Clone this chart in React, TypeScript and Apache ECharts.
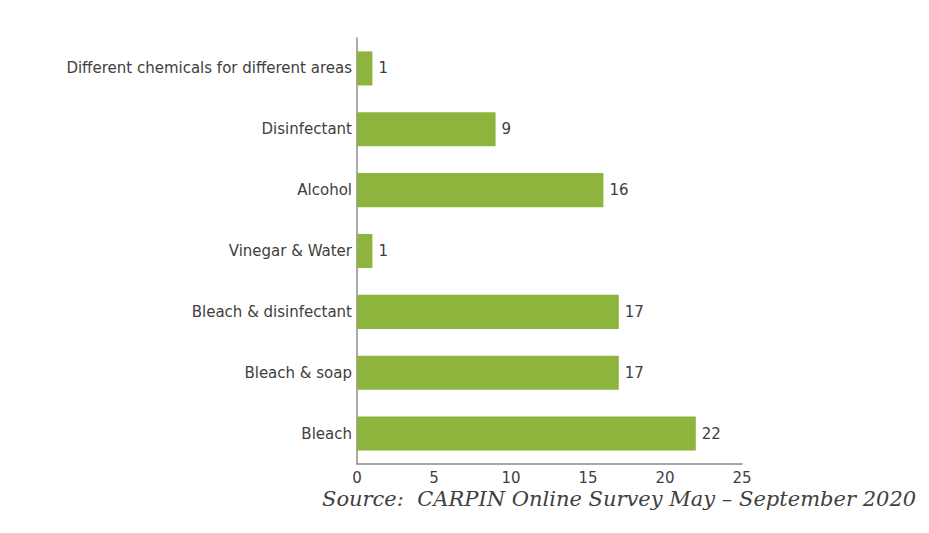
import React, { useEffect, useRef } from "react";
import * as echarts from "echarts";

const categories = [
  "Bleach",
  "Bleach & soap",
  "Bleach & disinfectant",
  "Vinegar & Water",
  "Alcohol",
  "Disinfectant",
  "Different chemicals for different areas",
];
const values = [22, 17, 17, 1, 16, 9, 1];
const sourceText = "Source:  CARPIN Online Survey May \u2013 September 2020";

const FONT = "'DejaVu Sans', sans-serif";

export default function App() {
  const ref = useRef<HTMLDivElement>(null);
  useEffect(() => {
    const chart = echarts.init(ref.current!, null, { renderer: "svg" });
    chart.setOption({
      animation: false,
      backgroundColor: "#ffffff",
      grid: { left: 357, right: 187, top: 38, bottom: 69, containLabel: false },
      xAxis: {
        type: "value",
        min: 0,
        max: 25,
        interval: 5,
        splitLine: { show: false },
        axisLine: { show: true, lineStyle: { color: "#8c8c8c", width: 1.5 } },
        axisTick: { show: false },
        axisLabel: { color: "#404040", fontSize: 15, fontFamily: FONT, margin: 6 },
      },
      yAxis: {
        type: "category",
        data: categories,
        axisLine: { show: true, lineStyle: { color: "#8c8c8c", width: 1.5 } },
        axisTick: { show: false },
        axisLabel: { color: "#404040", fontSize: 15, fontFamily: FONT, margin: 5 },
      },
      series: [
        {
          type: "bar",
          data: values,
          barCategoryGap: "44%",
          itemStyle: { color: "#8db53e" },
          label: {
            show: true,
            position: "right",
            distance: 6,
            color: "#404040",
            fontSize: 15,
            fontFamily: FONT,
          },
        },
      ],
      graphic: [
        {
          type: "text",
          left: 322,
          top: 488,
          style: {
            text: sourceText,
            fill: "#404040",
            fontSize: 21,
            fontStyle: "italic",
            fontFamily: "'DejaVu Serif', serif",
          },
        },
      ],
    });
    return () => chart.dispose();
  }, []);
  return (
    <div
      ref={ref}
      style={{ position: "absolute", left: 0, top: 0, width: 929, height: 533 }}
    />
  );
}
